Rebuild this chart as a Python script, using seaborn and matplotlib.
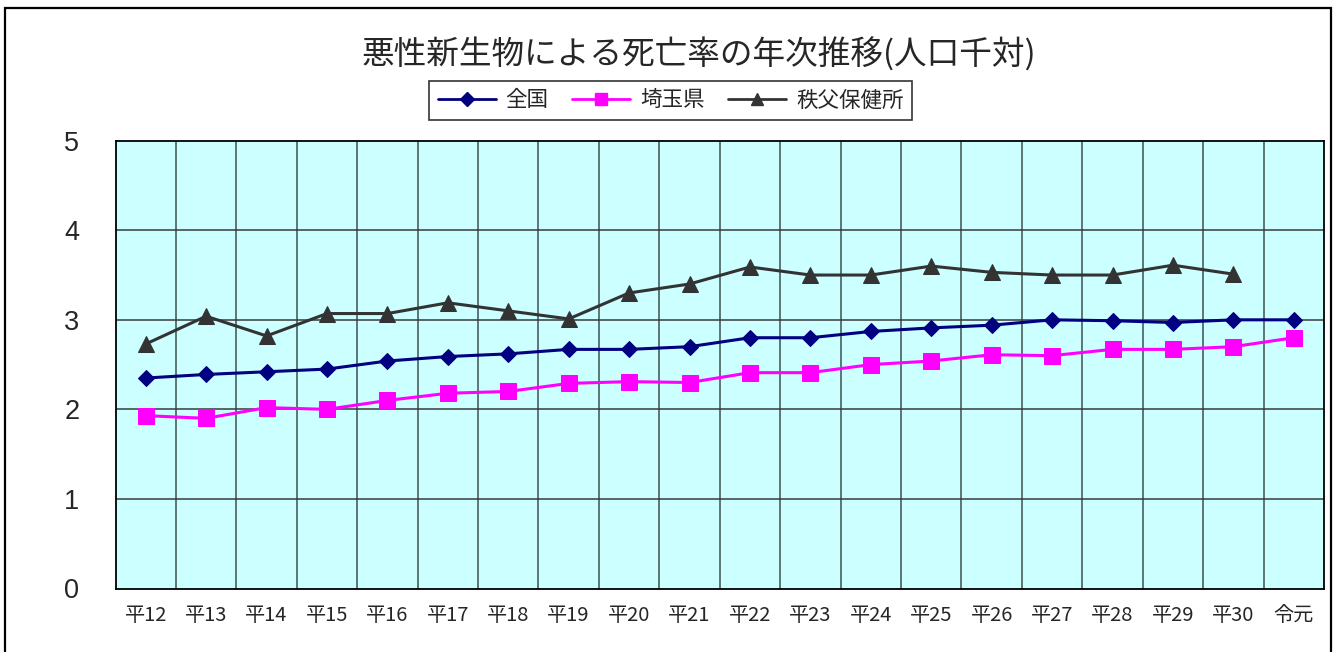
import numpy as np
import pandas as pd
import matplotlib
matplotlib.use("Agg")
import matplotlib.pyplot as plt
from matplotlib.patches import Rectangle
from matplotlib.lines import Line2D
import seaborn as sns

# 年次（平成12年〜令和元年）
years = ["平12", "平13", "平14", "平15", "平16", "平17", "平18", "平19", "平20", "平21",
         "平22", "平23", "平24", "平25", "平26", "平27", "平28", "平29", "平30", "令元"]

# 悪性新生物による死亡率（人口千対）
zenkoku = [2.35, 2.39, 2.42, 2.45, 2.54, 2.59, 2.62, 2.67, 2.67, 2.70,
           2.80, 2.80, 2.87, 2.91, 2.94, 3.00, 2.99, 2.97, 3.00, 3.00]
saitama = [1.93, 1.90, 2.02, 2.00, 2.10, 2.18, 2.20, 2.29, 2.31, 2.30,
           2.41, 2.41, 2.50, 2.54, 2.61, 2.60, 2.67, 2.67, 2.70, 2.80]
chichibu = [2.73, 3.04, 2.82, 3.07, 3.07, 3.19, 3.10, 3.01, 3.30, 3.40,
            3.59, 3.50, 3.50, 3.60, 3.53, 3.50, 3.50, 3.61, 3.51, np.nan]

series_names = ["全国", "埼玉県", "秩父保健所"]
y_ticks = [0, 1, 2, 3, 4, 5]

df = pd.DataFrame({
    "年": years * 3,
    "死亡率": zenkoku + saitama + chichibu,
    "系列": [n for n in series_names for _ in years],
})

sns.set_theme(style="white")
plt.rcParams["font.family"] = ["Noto Sans CJK JP", "DejaVu Sans"]

W, H = 1338, 652
fig = plt.figure(figsize=(W / 100, H / 100), dpi=100)
ax = fig.add_axes([115.5 / W, 1 - 588.5 / H, (1324 - 115.5) / W, (588.5 - 140.7) / H])
ax.set_facecolor("#CCFFFF")

palette = {"全国": "#000080", "埼玉県": "#FF00FF", "秩父保健所": "#333333"}
markers = {"全国": "D", "埼玉県": "s", "秩父保健所": "^"}
sizes = {"全国": 8, "埼玉県": 11, "秩父保健所": 11}

for name in series_names:
    sub = df[df["系列"] == name]
    sns.lineplot(data=sub, x="年", y="死亡率", ax=ax, color=palette[name],
                 marker=markers[name], markersize=sizes[name],
                 markeredgecolor=palette[name], linewidth=2.2, sort=False,
                 legend=False)

# 目盛・グリッド
ax.set_xlim(-0.5, len(years) - 0.5)
ax.set_ylim(0, 5)
ax.set_yticks(y_ticks)
ax.set_yticklabels([str(v) for v in y_ticks], fontsize=19.5,
                   family=["Liberation Sans", "DejaVu Sans"])
ax.set_xticks(range(len(years)))
ax.set_xticklabels(years, fontsize=14.5)
ax.tick_params(axis="y", length=0, pad=26)
ax.tick_params(axis="x", length=0, pad=12)
ax.set_xlabel("")
ax.set_ylabel("")
for x in np.arange(0.5, len(years) - 0.5, 1.0):
    ax.axvline(x, color="#3f4f4f", linewidth=1.1, zorder=0.5)
for y in y_ticks[1:-1]:
    ax.axhline(y, color="#3a3a3a", linewidth=1.1, zorder=0.5)
for s in ax.spines.values():
    s.set_visible(True)
    s.set_color("black")
    s.set_linewidth(1.3)

# タイトル
fig.text(699 / W, 1 - 55 / H, "悪性新生物による死亡率の年次推移(人口千対)",
         ha="center", va="center", fontsize=23.5)

# 凡例
handles = [Line2D([0], [0], color=palette[n], marker=markers[n], linewidth=2,
                  markersize=7 if n == "全国" else 9) for n in series_names]
leg = fig.legend(handles, series_names, loc="center", ncol=3,
                 bbox_to_anchor=(670.5 / W, 1 - 100.5 / H), fontsize=15.5,
                 frameon=True, fancybox=False, edgecolor="black",
                 handlelength=2.7, columnspacing=1.1, handletextpad=0.45,
                 borderpad=0.38)
leg.get_frame().set_linewidth(1.2)

# 外枠
fig.patches.append(Rectangle((5 / W, -0.02), (1331 - 5) / W, 1.02 - 8 / H,
                             transform=fig.transFigure, fill=False,
                             edgecolor="black", linewidth=1.6))

fig.savefig("out.png", dpi=100)
